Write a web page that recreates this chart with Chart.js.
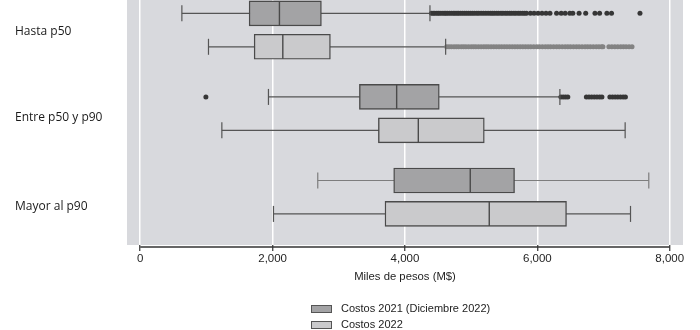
<!DOCTYPE html>
<html>
<head>
<meta charset="utf-8">
<script src="https://cdn.jsdelivr.net/npm/chart.js@4.4.1/dist/chart.umd.min.js"></script>
<style>
  body { margin: 0; background: #fff; }
  #wrap { position: relative; width: 700px; height: 330px; }
  #legend { position: absolute; left: 311px; top: 303px; font-family: "Liberation Sans", Arial, sans-serif; font-size: 11px; color: #222; }
  #legend .item { height: 16px; line-height: 11px; display: flex; align-items: flex-start; }
  #legend .sw { display: inline-block; width: 19px; height: 6px; border: 1px solid #555; margin: 2px 9px 0 0; }
</style>
</head>
<body>
<div id="wrap">
  <canvas id="boxChart"></canvas>
  <div id="legend"></div>
</div>
<script>
// categories and series
const categories = ["Hasta p50", "Entre p50 y p90", "Mayor al p90"];
const seriesNames = ["Costos 2021 (Diciembre 2022)", "Costos 2022"];

// five-number summaries, miles de pesos
const min2021 = [629, 1937, 2682];
const q1_2021 = [1645, 3311, 3829];
const med2021 = [2103, 3874, 4986];
const q3_2021 = [2737, 4518, 5655];
const max2021 = [4377, 6340, 7683];

const min2022 = [1031, 1233, 2013];
const q1_2022 = [1721, 3598, 3698];
const med2022 = [2154, 4201, 5273];
const q3_2022 = [2873, 5198, 6440];
const max2022 = [4614, 7326, 7407];

// outliers per category
const out2021 = [
    [4400, 4425, 4450, 4480, 4505, 4530, 4560, 4590, 4615, 4640, 4670, 4700, 4730, 4755,
     4785, 4810, 4840, 4870, 4900, 4930, 4960, 4990, 5020, 5050, 5085, 5115, 5150, 5185,
     5220, 5255, 5290, 5320, 5350, 5385, 5415, 5450, 5480, 5515, 5545, 5580, 5610, 5645,
     5675, 5710, 5740, 5775, 5805, 5835, 5895, 5950, 6010, 6070, 6130, 6190, 6290, 6360,
     6420, 6490, 6535, 6630, 6730, 6870, 6940, 7050, 7120, 7550],
    [992, 6355, 6390, 6425, 6460, 6740, 6780, 6820, 6860, 6900, 6940, 6975, 7095, 7135,
     7175, 7215, 7255, 7295, 7330],
    []
];
const out2022 = [
    [4630, 4665, 4700, 4740, 4775, 4810, 4850, 4885, 4920, 4960, 5000, 5035, 5070, 5110,
     5150, 5190, 5225, 5260, 5300, 5340, 5380, 5420, 5460, 5500, 5540, 5580, 5620, 5660,
     5700, 5740, 5780, 5820, 5860, 5900, 5945, 5990, 6030, 6075, 6120, 6160, 6200, 6245,
     6290, 6330, 6375, 6420, 6460, 6500, 6545, 6590, 6630, 6675, 6720, 6760, 6800, 6845,
     6890, 6930, 6970, 6990, 7080, 7125, 7170, 7215, 7260, 7300, 7340, 7385, 7430],
    [],
    []
];

const xTicks = [0, 2000, 4000, 6000, 8000];

const series = [
    { min: min2021, q1: q1_2021, med: med2021, q3: q3_2021, max: max2021, out: out2021,
      fill: "#a3a3a5", dot: "#363636", whisker: ["#555", "#555", "#7d7d7d"] },
    { min: min2022, q1: q1_2022, med: med2022, q3: q3_2022, max: max2022, out: out2022,
      fill: "#cacacc", dot: "#838383", whisker: ["#555", "#555", "#555"] }
];

// row position on the y axis: pairs inside each group
const rowPos = (g, s) => g * 2.5 + s;
const labelPos = [0.53, 3.13, 5.79];
const edge = "#4a4a4a";

const datasets = [];
series.forEach((sr, s) => {
    categories.forEach((c, g) => {
        datasets.push({
            type: "line",
            data: [{ x: sr.min[g], y: rowPos(g, s) }, { x: sr.max[g], y: rowPos(g, s) }],
            borderColor: sr.whisker[g],
            borderWidth: 1.2,
            pointRadius: 0,
            fill: false,
            order: 3,
        });
    });
    datasets.push({
        type: "bar",
        label: seriesNames[s],
        data: categories.map((c, g) => ({ y: rowPos(g, s), x: [sr.q1[g], sr.q3[g]] })),
        backgroundColor: sr.fill,
        borderColor: edge,
        borderWidth: 1.4,
        borderSkipped: false,
        barThickness: 25,
        stack: "box",
        order: 2,
    });
    datasets.push({
        type: "scatter",
        data: categories.map((c, g) => ({ x: sr.med[g], y: rowPos(g, s) })),
        pointStyle: "line",
        rotation: 90,
        radius: 12,
        borderColor: edge,
        borderWidth: 1.4,
        order: 1,
    });
    datasets.push({
        type: "scatter",
        data: categories.flatMap((c, g) => [
            { x: sr.min[g], y: rowPos(g, s) },
            { x: sr.max[g], y: rowPos(g, s) },
        ]),
        pointStyle: "line",
        rotation: 90,
        radius: 8,
        borderColor: categories.flatMap((c, g) => [sr.whisker[g], sr.whisker[g]]),
        borderWidth: 1.2,
        order: 1,
    });
    datasets.push({
        type: "scatter",
        data: categories.flatMap((c, g) => sr.out[g].map((v) => ({ x: v, y: rowPos(g, s) }))),
        pointStyle: "circle",
        radius: 2.5,
        backgroundColor: sr.dot,
        borderWidth: 0,
        order: 1,
    });
});

const plotFrame = {
    id: "plotFrame",
    beforeDraw(chart) {
        const { ctx, chartArea: a } = chart;
        ctx.save();
        ctx.fillStyle = "#d8d9dd";
        ctx.fillRect(a.left, a.top, a.right - a.left, a.bottom - a.top);
        ctx.restore();
    },
    afterDraw(chart) {
        const { ctx, chartArea: a, scales } = chart;
        const x = scales.x;
        ctx.save();
        ctx.strokeStyle = "#333";
        ctx.lineWidth = 1.3;
        ctx.beginPath();
        ctx.moveTo(x.getPixelForValue(xTicks[0]), a.bottom + 2);
        ctx.lineTo(x.getPixelForValue(xTicks[xTicks.length - 1]), a.bottom + 2);
        ctx.stroke();
        ctx.restore();
    },
};

new Chart(document.getElementById("boxChart"), {
    type: "bar",
    data: { datasets: datasets },
    plugins: [plotFrame],
    options: {
        indexAxis: "y",
        responsive: true,
        maintainAspectRatio: false,
        animation: false,
        events: [],
        layout: { autoPadding: false, padding: { left: 15, right: 17, top: 0, bottom: 0 } },
        plugins: {
            legend: { display: false },
            tooltip: { enabled: false },
        },
        scales: {
            x: {
                type: "linear",
                min: -200,
                max: 8200,
                stacked: false,
                afterBuildTicks: (s) => { s.ticks = xTicks.map((v) => ({ value: v })); },
                afterFit: (s) => { s.height = 85; s.paddingLeft = 0; s.paddingRight = 0; },
                grid: { color: "#ffffff", lineWidth: 1.5, tickColor: "#333", tickLength: 6, tickWidth: 1.2 },
                border: { display: false },
                ticks: {
                    color: "#1e1e1e",
                    padding: 1,
                    font: { family: "Liberation Sans", size: 11.5 },
                    callback: (v) => Number(v).toLocaleString("en-US"),
                },
                title: {
                    display: true,
                    text: "Miles de pesos (M$)",
                    color: "#1e1e1e",
                    font: { family: "Liberation Sans", size: 11.3 },
                    padding: { top: 0, bottom: 46 },
                },
            },
            y: {
                type: "linear",
                reverse: true,
                offset: false,
                min: -0.4,
                max: 6.93,
                afterBuildTicks: (s) => { s.ticks = labelPos.map((v) => ({ value: v })); },
                afterFit: (s) => { s.width = 112; s.paddingTop = 0; s.paddingBottom = 0; },
                grid: { display: false },
                border: { display: false },
                ticks: {
                    crossAlign: "far",
                    color: "#1a1a1a",
                    font: { family: "Open Sans", size: 12 },
                    callback: (v, i) => categories[i],
                },
            },
        },
    },
});

// legend
const legend = document.getElementById("legend");
seriesNames.forEach((name, s) => {
    const item = document.createElement("div");
    item.className = "item";
    const sw = document.createElement("span");
    sw.className = "sw";
    sw.style.background = series[s].fill;
    item.appendChild(sw);
    item.appendChild(document.createTextNode(name));
    legend.appendChild(item);
});
</script>
</body>
</html>
